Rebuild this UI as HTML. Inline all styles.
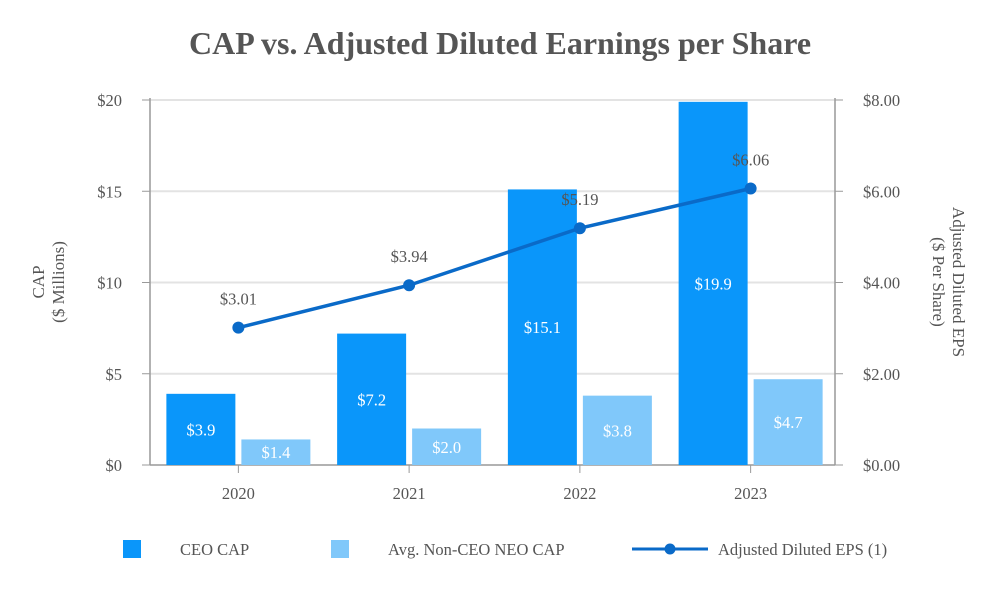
<!DOCTYPE html>
<html><head><meta charset="utf-8">
<style>
body{margin:0;background:#fff;}
svg{display:block;font-family:"Liberation Serif",serif;}
</style></head>
<body>
<svg id="chart" width="1000" height="600" viewBox="0 0 1000 600" xmlns="http://www.w3.org/2000/svg">
<text x="500" y="54" text-anchor="middle" font-size="32" font-weight="bold" fill="#555">CAP vs. Adjusted Diluted Earnings per Share</text>
<g id="grid"></g>
<g id="bars"></g>
<g id="line"></g>
<g id="axes"></g>
<text transform="translate(52,282) rotate(-90)" text-anchor="middle" font-size="17" fill="#555"><tspan x="0" dy="-8">CAP</tspan><tspan x="0" dy="20">($ Millions)</tspan></text>
<text transform="translate(945,282) rotate(90)" text-anchor="middle" font-size="17" fill="#555"><tspan x="0" dy="-8">Adjusted Diluted EPS</tspan><tspan x="0" dy="20">($ Per Share)</tspan></text>
<g>
<rect x="123" y="540" width="18" height="18" fill="#0A96FA"/>
<text x="180" y="555" font-size="16.5" fill="#555">CEO CAP</text>
<rect x="331" y="540" width="18" height="18" fill="#80C8FA"/>
<text x="388" y="555" font-size="16.5" fill="#555">Avg. Non-CEO NEO CAP</text>
<line x1="632" y1="549" x2="708" y2="549" stroke="#0A6AC8" stroke-width="3"/>
<circle cx="670" cy="549" r="5.5" fill="#0A6AC8"/>
<text x="718" y="555" font-size="16.5" fill="#555">Adjusted Diluted EPS (1)</text>
</g>
</svg>
<script>
const years=["2020","2021","2022","2023"];
const ceoCap=[3.9,7.2,15.1,19.9];
const neoCap=[1.4,2.0,3.8,4.7];
const eps=[3.01,3.94,5.19,6.06];
const leftTicks=[0,5,10,15,20];
const rightTicks=[0,2,4,6,8];
const NS="http://www.w3.org/2000/svg";
const X0=152,X1=835,Y0=465,Y1=100;
const band=(X1-X0)/years.length;
const yL=v=>Y0-(v/20)*(Y0-Y1);
const yR=v=>Y0-(v/8)*(Y0-Y1);
const xC=i=>X0+1+band*(i+0.5);
function mk(tag,attrs,parent,text){const e=document.createElementNS(NS,tag);for(const k in attrs)e.setAttribute(k,attrs[k]);if(text!==undefined)e.textContent=text;document.getElementById(parent).appendChild(e);return e;}
leftTicks.forEach(t=>{
 const g=mk("line",{x1:150,x2:X1,y1:yL(t),y2:yL(t),stroke:t===0?"#999":"#e3e3e3","stroke-width":t===0?1.5:2},"grid");
 
 
 const l=mk("text",{x:150-28,y:yL(t)+6,"text-anchor":"end","font-size":16.5,fill:"#555"},"axes","$"+t);
 
 
 const tk=mk("line",{x1:142,x2:150,y1:yL(t),y2:yL(t),stroke:"#999"},"axes");
 
 
});
rightTicks.forEach(t=>{
 const l=mk("text",{x:X1+28,y:yR(t)+6,"text-anchor":"start","font-size":16.5,fill:"#555"},"axes","$"+t.toFixed(2));
 
 
 const tk=mk("line",{x1:X1,x2:X1+8,y1:yR(t),y2:yR(t),stroke:"#999"},"axes");
 
 
});
let a=mk("line",{x1:150,x2:150,y1:Y1-2,y2:Y0,stroke:"#999","stroke-width":1.5},"axes");


a=mk("line",{x1:X1,x2:X1,y1:Y1-2,y2:Y0,stroke:"#999","stroke-width":1.5},"axes");


const bw=69,gap=6;
years.forEach((y,i)=>{
 const c=xC(i);
 const tk=mk("line",{x1:c,x2:c,y1:Y0,y2:Y0+8,stroke:"#999"},"axes");
 
 
 const xl=mk("text",{x:c,y:Y0+34,"text-anchor":"middle","font-size":16.5,fill:"#555"},"axes",y);
 
 
 const b1=mk("rect",{x:c-gap/2-bw,y:yL(ceoCap[i]),width:bw,height:Y0-yL(ceoCap[i]),fill:"#0A96FA"},"bars");
 
 
 const t1=mk("text",{x:c-gap/2-bw/2,y:(yL(ceoCap[i])+Y0)/2+6,"text-anchor":"middle","font-size":16.5,fill:"#fff"},"bars","$"+ceoCap[i].toFixed(1));
 
 
 const b2=mk("rect",{x:c+gap/2,y:yL(neoCap[i]),width:bw,height:Y0-yL(neoCap[i]),fill:"#80C8FA"},"bars");
 
 
 const t2=mk("text",{x:c+gap/2+bw/2,y:(yL(neoCap[i])+Y0)/2+6,"text-anchor":"middle","font-size":16.5,fill:"#fff"},"bars","$"+neoCap[i].toFixed(1));
 
 
});
const pts=eps.map((v,i)=>xC(i)+","+yR(v)).join(" ");
const pl=mk("polyline",{points:pts,fill:"none",stroke:"#0A6AC8","stroke-width":3.5},"line");


eps.forEach((v,i)=>{
 const p=mk("circle",{cx:xC(i),cy:yR(v),r:6,fill:"#0A6AC8"},"line");
 
 
 const l=mk("text",{x:xC(i),y:yR(v)-23,"text-anchor":"middle","font-size":16.5,fill:"#555"},"line","$"+v.toFixed(2));
 
 
});
</script>
</body></html>
